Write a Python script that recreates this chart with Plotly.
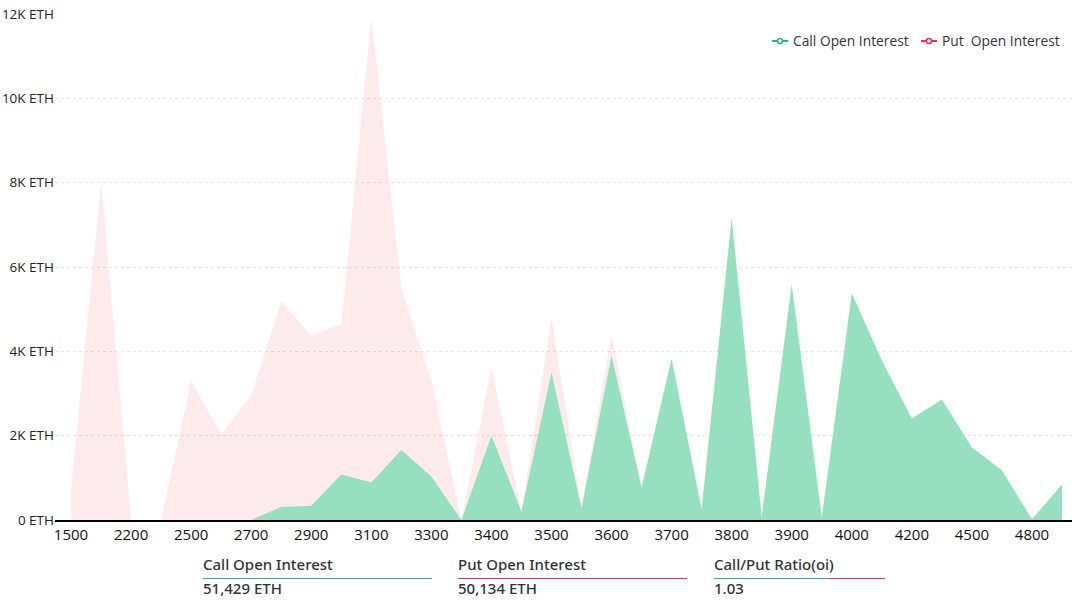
import plotly.graph_objects as go

strikes = ["1500", "2000", "2200", "2400", "2500", "2600", "2700", "2800", "2900", "3000", "3100", "3200",
           "3300", "3350", "3400", "3450", "3500", "3550", "3600", "3650", "3700", "3750", "3800", "3850",
           "3900", "3950", "4000", "4100", "4200", "4400", "4500", "4600", "4800", "5000"]
put_oi = [700, 8000, 0, 0, 3300, 2030, 2950, 5180, 4380, 4640, 11900, 5500,
          3300, 0, 3620, 200, 4780, 300, 4400, 750, 1200, 200, 1500, 50,
          900, 40, 1300, 700, 500, 300, 200, 100, 0, 100]
call_oi = [0, 0, 0, 0, 0, 0, 0, 310, 340, 1080, 890, 1660,
           1030, 0, 2000, 200, 3500, 280, 3900, 770, 3830, 250, 7180, 80,
           5590, 60, 5380, 3780, 2410, 2860, 1720, 1180, 20, 840]

tick_strikes = strikes[0::2]
y_ticks = [0, 2000, 4000, 6000, 8000, 10000, 12000]
y_labels = ["0 ETH", "2K ETH", "4K ETH", "6K ETH", "8K ETH", "10K ETH", "12K ETH"]

stat_titles = ["Call Open Interest", "Put Open Interest", "Call/Put Ratio(oi)"]
stat_values = ["51,429 ETH", "50,134 ETH", "1.03"]
legend_names = ["Call Open Interest", "Put\u00a0 Open Interest"]

GREEN = "#2bb38b"
RED = "#e0325f"

W, H = 1076, 601
L, R, T, B = 55, 4, 14, 81
PLOT_W = W - L - R
PLOT_H = H - T - B


def px_x(v):
    return (v - L) / PLOT_W


def px_y(v):
    return (H - B - v) / PLOT_H


fig = go.Figure()
# put goes first so the call area is painted over it
fig.add_trace(go.Scatter(x=strikes, y=put_oi, mode="lines", line=dict(width=0), fill="tozeroy",
                         fillcolor="rgba(232,60,90,0.11)", name="Put Open Interest", showlegend=False))
fig.add_trace(go.Scatter(x=strikes, y=call_oi, mode="lines", line=dict(width=0), fill="tozeroy",
                         fillcolor="#96dfc0", name="Call Open Interest", showlegend=False))

# stat blocks under the chart
stat_x = [203, 458, 714]
for i in range(3):
    fig.add_annotation(x=px_x(stat_x[i]), y=px_y(564), text=stat_titles[i], xref="paper", yref="paper",
                       showarrow=False, xanchor="left", yanchor="middle", xshift=-2,
                       font=dict(family="Noto Sans", size=15, color="#2f3338", weight=500))
    fig.add_annotation(x=px_x(stat_x[i]), y=px_y(588), text=stat_values[i], xref="paper", yref="paper",
                       showarrow=False, xanchor="left", yanchor="middle", xshift=-2,
                       font=dict(family="Noto Sans", size=15, color="#2f3338", weight=500))

line_segs = [(203, 432, GREEN), (458, 687, RED), (714, 828, GREEN), (828, 885, RED)]
for x0, x1, c in line_segs:
    fig.add_shape(type="line", xref="paper", yref="paper", x0=px_x(x0), x1=px_x(x1), y0=px_y(578.5), y1=px_y(578.5),
                  line=dict(color=c, width=1))

# small legend, plotly's own symbols can't go under 30px wide
legend_x = [772, 921]
legend_c = [GREEN, RED]
for i in range(2):
    x0 = legend_x[i]
    fig.add_shape(type="line", xref="paper", yref="paper", x0=px_x(x0), x1=px_x(x0 + 16), y0=px_y(41), y1=px_y(41),
                  line=dict(color=legend_c[i], width=2))
    fig.add_shape(type="circle", xref="paper", yref="paper", x0=px_x(x0 + 5.5), x1=px_x(x0 + 10.5),
                  y0=px_y(38.5), y1=px_y(43.5), fillcolor="white", line=dict(color=legend_c[i], width=1.5))
    fig.add_annotation(x=px_x(x0 + 21), y=px_y(40.5), text=legend_names[i], xref="paper", yref="paper",
                       showarrow=False, xanchor="left", yanchor="middle", xshift=-2,
                       font=dict(family="Open Sans", size=13.8, color="#333333"))

fig.update_layout(
    width=W,
    height=H,
    autosize=False,
    margin=dict(l=L, r=R, t=T, b=B, pad=0),
    paper_bgcolor="white",
    plot_bgcolor="white",
    font=dict(family="Open Sans", size=13, color="#333333"),
    showlegend=False,
)
fig.update_xaxes(type="category", categoryorder="array", categoryarray=strikes, range=[-0.533, 33.333],
                 tickmode="array", tickvals=tick_strikes, ticktext=tick_strikes, showgrid=False, automargin=False,
                 showline=True, linecolor="black", linewidth=1.5, ticks="", zeroline=False,
                 tickfont=dict(family="Open Sans", size=15, color="#111111"))
fig.update_yaxes(range=[0, 12000], tickmode="array", tickvals=y_ticks, ticktext=y_labels, showgrid=True,
                 automargin=False, ticklabeloverflow="allow",
                 gridcolor="#e6e6e6", griddash="3px,3px", gridwidth=1, zeroline=False, showline=False, ticks="",
                 tickfont=dict(family="Open Sans", size=13.5, color="#222222"))

# drop the browser's default body margin so the figure fills the window
fig.write_html("out.html", post_script="document.body.style.margin='0';", config=dict(displayModeBar=False))
